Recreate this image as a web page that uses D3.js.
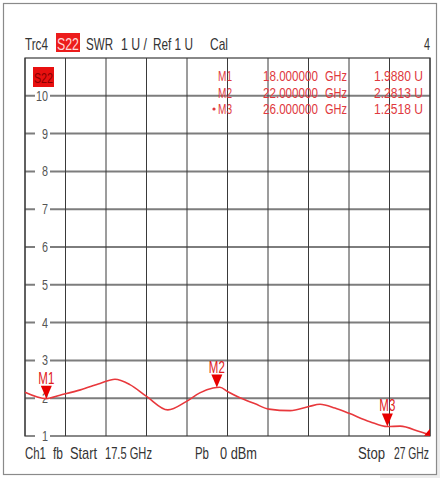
<!DOCTYPE html>
<html><head><meta charset="utf-8">
<script src="https://cdn.jsdelivr.net/npm/d3@7"></script>
<style>
html,body{margin:0;padding:0;background:#fff;}
svg text{font-family:"Liberation Sans",Arial,sans-serif;}
</style></head>
<body>
<svg id="c" width="440" height="478"></svg>
<script>
// ---- data ----
const freqGHz = [17.5, 18.0, 18.32, 18.8, 19.26, 19.61, 19.96, 20.36, 20.85, 21.28, 21.6, 21.91, 22.07, 22.26, 22.54, 22.9, 23.22, 23.72, 24.16, 24.42, 24.77, 25.1, 25.59, 26.0, 26.3, 26.77, 27.0];
const swr     = [2.16, 1.99, 2.08, 2.22, 2.39, 2.50, 2.36, 2.04, 1.69, 1.91, 2.14, 2.27, 2.29, 2.17, 2.01, 1.85, 1.71, 1.67, 1.78, 1.84, 1.74, 1.60, 1.38, 1.25, 1.26, 1.11, 1.03];
const markerNames = ["M1", "M2", "M3"];
const markerFreq  = [18.0, 22.0, 26.0];
const markerVal   = [1.9880, 2.2813, 1.2518];
const markerFreqText = ["18.000000", "22.000000", "26.000000"];
const markerValText  = ["1.9880", "2.2813", "1.2518"];
const yTicks = [1, 2, 3, 4, 5, 6, 7, 8, 9, 10];
const xDomain = [17.5, 27];
const yDomain = [1, 11];

const svg = d3.select("#c");
const L = 25, R = 430, T = 58, B = 436;
const x = d3.scaleLinear().domain(xDomain).range([L, R]);
const y = d3.scaleLinear().domain(yDomain).range([B, T]);

// outer frame
svg.append("rect").attr("x", 436).attr("y", 290).attr("width", 4).attr("height", 186).attr("fill", "#ececec");
svg.append("rect").attr("x", 380).attr("y", 475).attr("width", 60).attr("height", 3).attr("fill", "#ececec");
svg.append("rect").attr("x", 3.5).attr("y", 3.5).attr("width", 433).attr("height", 471)
  .attr("fill", "none").attr("stroke", "#8a8a8a").attr("stroke-width", 1.2);

// condensed text: natural glyphs squeezed horizontally to a target width
function txt(s, xx, yy, opt = {}) {
  const g = svg.append("g");
  const t = g.append("text").attr("x", 0).attr("y", 0).text(s)
    .attr("font-size", opt.size || 16).attr("fill", opt.fill || "#333");
  const w = t.node().getComputedTextLength();
  const len = opt.len || w * 0.8;
  const sx = len / w;
  let x0 = xx;
  if (opt.anchor === "middle") x0 = xx - len / 2;
  if (opt.anchor === "end") x0 = xx - len;
  g.attr("transform", `translate(${x0},${yy}) scale(${sx},1)`);
  return g;
}

// header
txt("Trc4", 25, 50, {len: 23});
svg.append("rect").attr("x", 56).attr("y", 33).attr("width", 24).attr("height", 19).attr("fill", "#ec1c1c");
txt("S22", 57, 50, {len: 22, fill: "#ffd6d6"});
txt("SWR", 86, 50, {len: 27});
txt("1 U /", 121, 50, {len: 26});
txt("Ref 1 U", 153, 50, {len: 40});
txt("Cal", 210, 50, {len: 18});
txt("4", 424, 50, {len: 6});

// grid
const vTicks = d3.range(0, 11).map(i => xDomain[0] + i * (xDomain[1] - xDomain[0]) / 10);
svg.append("g").selectAll("line").data(yTicks.filter(v => v > 1)).join("line")
  .attr("x1", L).attr("x2", R).attr("y1", d => y(d)).attr("y2", d => y(d))
  .attr("stroke", "#7d7d7d").attr("stroke-width", 2);
svg.append("g").selectAll("line").data(vTicks).join("line")
  .attr("x1", d => x(d)).attr("x2", d => x(d)).attr("y1", T).attr("y2", B)
  .attr("stroke", "#3a3a3a").attr("stroke-width", 1);
svg.append("rect").attr("x", L).attr("y", T).attr("width", R - L).attr("height", B - T)
  .attr("fill", "none").attr("stroke", "#3a3a3a").attr("stroke-width", 1.2);

// y tick labels with white background
svg.append("g").selectAll("rect").data(yTicks).join("rect")
  .attr("x", 35).attr("y", d => y(d) - 6).attr("width", 15).attr("height", 12).attr("fill", "#fff");
yTicks.forEach(v => txt(String(v), 48, y(v) + 5, {anchor: "end", size: 15, fill: "#555", len: v >= 10 ? 12 : 6}));

// S22 tag in plot
svg.append("rect").attr("x", 33).attr("y", 67).attr("width", 21).attr("height", 20).attr("fill", "#e81010");
txt("S22", 34, 83, {len: 19, fill: "#8a0000", size: 15});

// marker table
const rowY = [81, 97.5, 114];
markerNames.forEach((m, i) => {
  const col = "#e0393e";
  if (i === 2) svg.append("circle").attr("cx", 214).attr("cy", rowY[i] - 5).attr("r", 1.6).attr("fill", col);
  txt(m, 218, rowY[i], {len: 14, fill: col, size: 14});
  txt(markerFreqText[i], 263, rowY[i], {len: 55, fill: col, size: 14});
  txt("GHz", 325, rowY[i], {len: 22, fill: col, size: 14});
  txt(markerValText[i] + "  U", 374, rowY[i], {fill: col, len: 49, size: 14});
});

// trace
const line = d3.line().x((d, i) => x(freqGHz[i])).y(d => y(d)).curve(d3.curveMonotoneX);
svg.append("path").datum(swr).attr("d", line)
  .attr("fill", "none").attr("stroke", "#e8383c").attr("stroke-width", 1.6);

// markers
markerNames.forEach((m, i) => {
  const mx = x(markerFreq[i]), my = y(markerVal[i]);
  svg.append("path").attr("d", `M${mx - 5.5},${my - 13}L${mx + 5.5},${my - 13}L${mx},${my}Z`).attr("fill", "#e80000");
  txt(m, mx, my - 15, {anchor: "middle", fill: "#e02020", size: 16, len: 16});
});
// end-of-trace marker wedge
const ex = x(xDomain[1]), ey = y(swr[swr.length - 1]);
svg.append("path").attr("d", `M${ex - 6},${ey + 1}L${ex},${ey - 6}L${ex},${ey + 1}Z`).attr("fill", "#e80000");

// footer
txt("Ch1", 25, 459, {len: 21});
txt("fb", 53, 459, {len: 10});
txt("Start", 70, 459, {len: 27});
txt("17.5 GHz", 105, 459, {len: 47});
txt("Pb", 195, 459, {len: 14});
txt("0 dBm", 220, 459, {len: 37});
txt("Stop", 358, 459, {len: 27});
txt("27 GHz", 394, 459, {len: 35});
</script>
</body></html>
